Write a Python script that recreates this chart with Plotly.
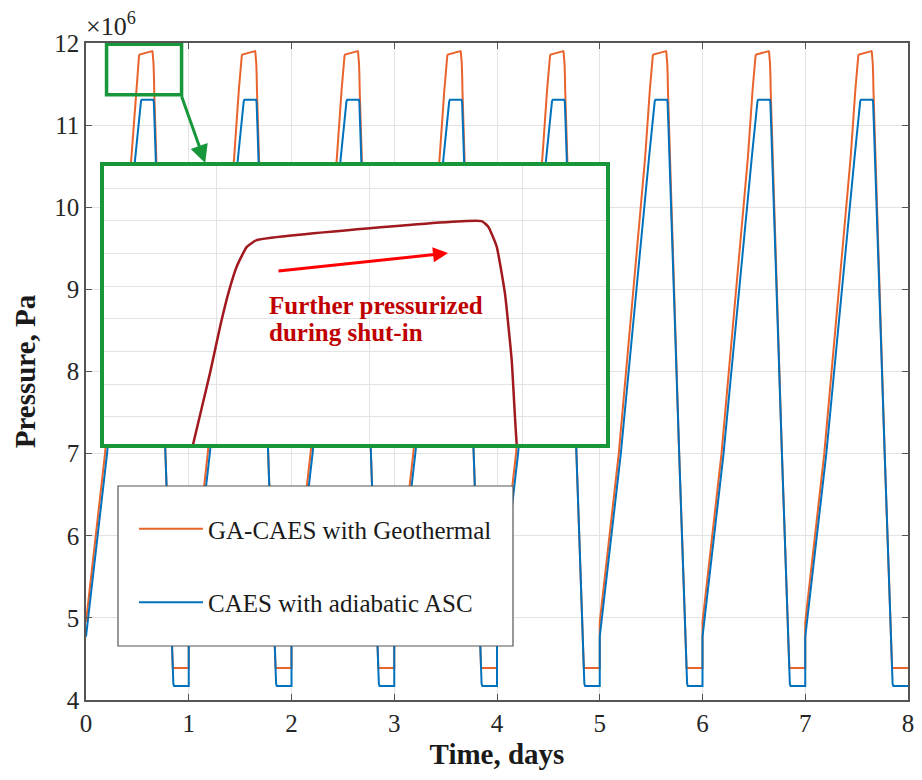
import plotly.graph_objects as go

# ---------------- data (pressure in units of 1e6 Pa, time in days) ----------------
days = [0, 1, 2, 3, 4, 5, 6, 7]

# one daily cycle: time within the day and pressure
geo_tau = [0.0, 0.185, 0.442, 0.4871, 0.4962, 0.5017, 0.5062, 0.5108, 0.5162, 0.5217,
           0.6446, 0.6482, 0.6528, 0.6573, 0.661, 0.6637, 0.773, 0.825, 0.838, 0.845, 1.0]
geo_p = [4.95, 7.0, 10.61, 11.4215, 11.573, 11.673, 11.745, 11.803, 11.845, 11.860,
         11.901, 11.889, 11.846, 11.745, 11.601, 11.421, 7.0, 5.0, 4.5, 4.39, 4.39]

asc_tau = [0.0, 0.205, 0.48, 0.525, 0.535, 0.542, 0.655, 0.66, 0.668, 0.773,
           0.825, 0.843, 0.85, 0.857, 1.0]
asc_p = [4.77, 7.0, 10.61, 11.2, 11.29, 11.31, 11.31, 11.28, 11.0, 7.0,
         5.0, 4.3, 4.2, 4.17, 4.17]

x_ticks = [0, 1, 2, 3, 4, 5, 6, 7, 8]
y_ticks = [4, 5, 6, 7, 8, 9, 10, 11, 12]

series_names = ["GA-CAES with Geothermal", "CAES with adiabatic ASC"]

geo_t = [d + t for d in days for t in geo_tau]
geo_v = [p for d in days for p in geo_p]
asc_t = [d + t for d in days for t in asc_tau]
asc_v = [p for d in days for p in asc_p]

# ---------------- styling ----------------
FONT = "Liberation Serif"
ORANGE = "#E8642C"
BLUE = "#0072BD"
GREEN = "#17963A"
DARKRED = "#A0191E"
AXIS = "#555555"
GRID = "#E3E3E3"

fig = go.Figure()

fig.add_trace(go.Scatter(x=geo_t, y=geo_v, mode="lines", name=series_names[0],
                         line=dict(color=ORANGE, width=2), legendgroup="a",
                         xaxis="x", yaxis="y"))
fig.add_trace(go.Scatter(x=asc_t, y=asc_v, mode="lines", name=series_names[1],
                         line=dict(color=BLUE, width=2), legendgroup="b",
                         xaxis="x", yaxis="y"))
# inset (zoom of the first peak)
fig.add_trace(go.Scatter(x=geo_t, y=geo_v, mode="lines", showlegend=False,
                         line=dict(color=DARKRED, width=2.5, shape="spline", smoothing=0.4),
                         xaxis="x2", yaxis="y2"))

W, H = 922, 780
ML, MR, MT, MB = 86, 14, 43, 80
PW, PH = W - ML - MR, H - MT - MB


def px(xp):
    return (xp - ML) / PW


def py(yp):
    return (H - MB - yp) / PH


axis_common = dict(showline=True, linecolor=AXIS, linewidth=1.5, mirror="ticks",
                   ticks="inside", ticklen=6, tickcolor=AXIS, showgrid=True,
                   gridcolor=GRID, gridwidth=1, zeroline=False, automargin=False,
                   tickfont=dict(family=FONT, size=25, color="#262626"))

fig.update_layout(
    width=W, height=H,
    margin=dict(l=ML, r=MR, t=MT, b=MB, autoexpand=False),
    paper_bgcolor="white", plot_bgcolor="white",
    xaxis=dict(range=[0, 8], tickvals=x_ticks, domain=[0, 1],
               title=dict(text="<b>Time, days</b>", standoff=8,
                          font=dict(family=FONT, size=29, color="#1a1a1a")),
               **axis_common),
    yaxis=dict(range=[4, 12], tickvals=y_ticks, domain=[0, 1],
               title=dict(text="<b>Pressure, Pa</b>", standoff=10,
                          font=dict(family=FONT, size=29, color="#1a1a1a")),
               **axis_common),
    xaxis2=dict(domain=[px(104), px(606)], anchor="y2", range=[0.4383, 0.7125],
                showticklabels=False, ticks="", showgrid=True, gridcolor=GRID,
                tick0=0, dtick=1 / 12, zeroline=False, showline=True,
                linecolor=GREEN, linewidth=4, mirror=True, automargin=False),
    yaxis2=dict(domain=[py(444), py(166)], anchor="x2", range=[11.42, 12.02],
                showticklabels=False, ticks="", showgrid=True, gridcolor=GRID,
                tick0=11.9725, dtick=0.0706, zeroline=False, showline=True,
                linecolor=GREEN, linewidth=4, mirror=True, automargin=False),
    showlegend=True,
    legend=dict(x=px(134), y=py(506), xanchor="left", yanchor="top",
                bgcolor="rgba(0,0,0,0)", borderwidth=0,
                font=dict(family=FONT, size=25, color="#1a1a1a"),
                itemwidth=64, traceorder="grouped", tracegroupgap=38),
)

fig.add_shape(type="rect", xref="paper", yref="paper",
              x0=px(118), x1=px(513), y0=py(646), y1=py(486),
              fillcolor="white", line=dict(color=AXIS, width=1.2), layer="above")
fig.add_shape(type="rect", xref="x", yref="y", x0=0.2, x1=0.93, y0=11.37, y1=11.985,
              line=dict(color=GREEN, width=3.5), layer="above")

fig.add_annotation(xref="paper", yref="paper", x=0, y=1, xanchor="left", yanchor="bottom",
                   text="×10<sup>6</sup>", showarrow=False, yshift=0, xshift=-2,
                   font=dict(family=FONT, size=26, color="#262626"))
fig.add_annotation(xref="x", yref="y", x=1.16, y=10.54, ax=0.925, ay=11.37,
                   axref="x", ayref="y", text="", showarrow=True, arrowhead=2,
                   arrowsize=1.2, arrowwidth=3, arrowcolor=GREEN)
fig.add_annotation(xref="x2", yref="y2", x=0.6262, y=11.832, ax=0.5328, ay=11.793,
                   axref="x2", ayref="y2", text="", showarrow=True, arrowhead=2,
                   arrowsize=1, arrowwidth=3, arrowcolor="#FF0000")
fig.add_annotation(xref="x2", yref="y2", x=0.5273, y=11.72, xanchor="left", yanchor="middle",
                   text="<b>Further pressurized</b>", showarrow=False,
                   font=dict(family=FONT, size=25, color="#C00000"))
fig.add_annotation(xref="x2", yref="y2", x=0.5273, y=11.66, xanchor="left", yanchor="middle",
                   text="<b>during shut-in</b>", showarrow=False,
                   font=dict(family=FONT, size=25, color="#C00000"))

fig.write_html("out.html", config={"displayModeBar": False},
               post_script="document.body.style.margin='0';")
